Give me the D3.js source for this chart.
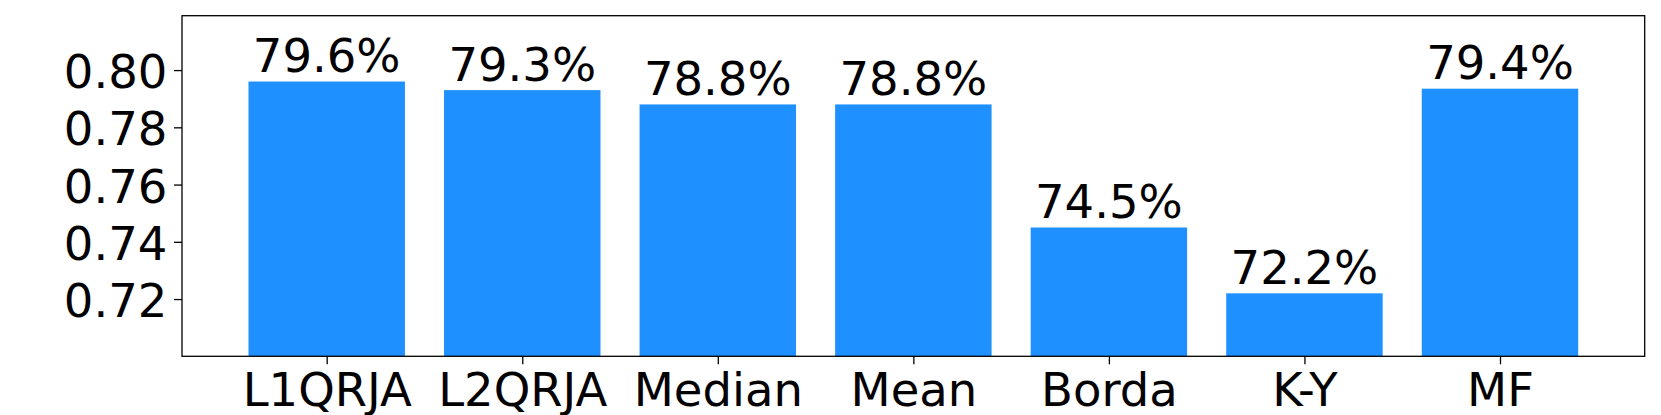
<!DOCTYPE html>
<html>
  <head>
    <style>
     body{
         margin: 0;
         background-color: white;
     }
     text{
         font-family: "DejaVu Sans", sans-serif;
     }
    </style>
    <script src="https://d3js.org/d3.v7.min.js"></script>
    <title>Accuracy by method</title>
  </head>
  <body>
    <script>
    // values
    const methods = ["L1QRJA", "L2QRJA", "Median", "Mean", "Borda", "K-Y", "MF"];
    const accuracy = [0.796, 0.793, 0.788, 0.788, 0.745, 0.722, 0.7935];
    const barLabels = ["79.6%", "79.3%", "78.8%", "78.8%", "74.5%", "72.2%", "79.4%"];
    const yTicks = [0.72, 0.74, 0.76, 0.78, 0.80];

    const w = 1661;
    const h = 415;
    const padLeft = 182, padRight = 1644.7, padTop = 15.7, padBottom = 356.3;
    const fontSize = 46.5;

    const svg = d3.select("body")
                  .append("svg")
                  .attr("width", w)
                  .attr("height", h);

    const xScale = d3.scaleLinear()
                     .domain([-0.74, methods.length - 1 + 0.74])
                     .range([padLeft, padRight]);
    const yScale = d3.scaleLinear()
                     .domain([0.70, 0.819])
                     .range([padBottom, padTop]);

    // bars
    svg.selectAll("rect.bar")
       .data(accuracy)
       .enter()
       .append("rect")
       .attr("class", "bar")
       .attr("x", (d, i) => xScale(i - 0.4))
       .attr("width", (d, i) => xScale(i + 0.4) - xScale(i - 0.4))
       .attr("y", d => yScale(d))
       .attr("height", d => padBottom - yScale(d))
       .attr("fill", "#1E90FF");

    // value labels on top of bars
    svg.selectAll("text.val")
       .data(accuracy)
       .enter()
       .append("text")
       .attr("class", "val")
       .attr("x", (d, i) => xScale(i))
       .attr("y", d => yScale(d) - 9.5)
       .attr("text-anchor", "middle")
       .attr("font-size", fontSize)
       .attr("fill", "black")
       .text((d, i) => barLabels[i]);

    const xAxis = d3.axisBottom(xScale)
                    .tickValues(d3.range(methods.length))
                    .tickFormat(i => methods[i])
                    .tickSize(8)
                    .tickPadding(8.5);
    const yAxis = d3.axisLeft(yScale)
                    .tickValues(yTicks)
                    .tickFormat(d3.format(".2f"))
                    .tickSize(8)
                    .tickPadding(6.6);

    const gx = svg.append("g")
       .attr("id", "x-axis")
       .attr("transform", "translate(0," + padBottom + ")")
       .call(xAxis);
    const gy = svg.append("g")
       .attr("id", "y-axis")
       .attr("transform", "translate(" + padLeft + ",0)")
       .call(yAxis);

    [gx, gy].forEach(g => {
      g.select(".domain").remove();
      g.selectAll(".tick line").attr("stroke", "black").attr("stroke-width", 1.3);
      g.selectAll(".tick text")
       .attr("font-size", fontSize)
       .attr("font-family", "DejaVu Sans")
       .attr("fill", "black");
    });
    gy.selectAll(".tick text").attr("dy", "0.38em");

    // frame
    svg.append("rect")
       .attr("x", padLeft)
       .attr("y", padTop)
       .attr("width", padRight - padLeft)
       .attr("height", padBottom - padTop)
       .attr("fill", "none")
       .attr("stroke", "black")
       .attr("stroke-width", 1.3);
    </script>
  </body>
</html>
